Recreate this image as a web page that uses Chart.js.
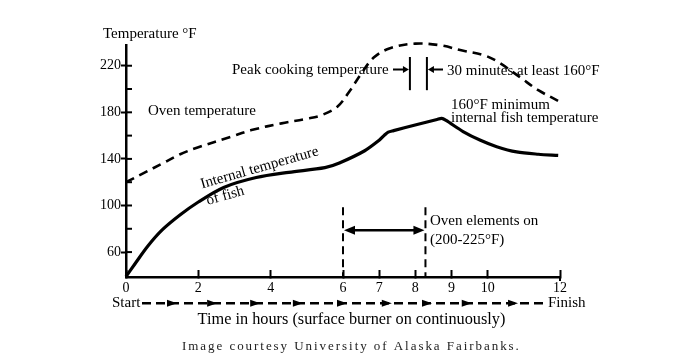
<!DOCTYPE html>
<html lang="en">
<head>
    <meta charset="UTF-8">
    <title>Smoking fish: oven and internal temperature</title>
    <script src="https://cdn.jsdelivr.net/npm/chart.js"></script>
    <style>
        html, body {
            margin: 0;
            padding: 0;
            background: #fff;
        }
        #wrap {
            width: 700px;
            height: 362px;
        }
    </style>
</head>
<body>
<div id="wrap">
    <canvas id="smokeChart" width="700" height="362"></canvas>
</div>

<script>
    // values (hours, degrees F)
    const ovenHours = [0, 0.5, 1, 1.5, 2, 2.9, 3.5, 4.3, 5, 5.4, 5.85, 6.2, 6.5, 6.85, 7.3, 8, 8.7, 9.3, 9.9, 10.3, 10.9, 11.4, 12];
    const ovenTemp  = [120, 128, 136, 144, 150, 159, 165, 170.5, 174.5, 177.5, 185, 199, 213, 227, 235, 239, 237.5, 233, 229, 223, 210, 199, 189];

    const fishHours = [0, 0.25, 0.6, 1, 1.5, 2, 2.7, 3.6, 4.5, 5.5, 5.9, 6.6, 7, 7.15, 7.25, 7.4, 8.05, 8.6, 8.73, 8.85, 9.32, 9.8, 10.25, 10.8, 11.4, 11.95];
    const fishTemp  = [39, 50, 65, 79, 92, 103, 115.5, 124, 128.5, 132.5, 136.5, 147, 156, 160.5, 163, 164.3, 169.5, 173.8, 174.8, 173, 163.5, 156, 150.5, 146, 144, 143];

    const xTicks = [0, 2, 4, 6, 7, 8, 9, 10, 12];
    const yTicks = [60, 100, 140, 180, 220];
    const yMinorTicks = [80, 120, 160, 200];

    // markers on the time axis
    const peakStart = 7.85, peakEnd = 8.32;
    const ovenOnStart = 6, ovenOnEnd = 8.28;
    const flowArrows = [1.41, 2.52, 3.71, 4.89, 6.11, 7.35, 8.46, 9.56, 10.84];

    const SERIF = "'Liberation Serif', 'Times New Roman', serif";

    function toPoints(xs, ys) {
        return xs.map((x, i) => ({ x: x, y: ys[i] }));
    }

    function arrowHead(ctx, x, y, dir, len, half) {
        ctx.beginPath();
        ctx.moveTo(x, y);
        ctx.lineTo(x - dir * len, y - half);
        ctx.lineTo(x - dir * len, y + half);
        ctx.closePath();
        ctx.fill();
    }

    const notes = {
        id: 'notes',
        afterDatasetsDraw(chart) {
            const ctx = chart.ctx;
            const xs = chart.scales.x, ys = chart.scales.y;
            const px = v => xs.getPixelForValue(v);
            const py = v => ys.getPixelForValue(v);
            const left = chart.chartArea.left, bottom = chart.chartArea.bottom;

            ctx.save();
            ctx.strokeStyle = '#000';
            ctx.fillStyle = '#000';

            // inner half of the y ticks, and the unlabelled ones
            ctx.lineWidth = 2;
            yTicks.concat(yMinorTicks).forEach(v => {
                ctx.beginPath();
                ctx.moveTo(left, py(v));
                ctx.lineTo(left + 6, py(v));
                ctx.stroke();
            });

            ctx.font = '15px ' + SERIF;
            ctx.textBaseline = 'alphabetic';
            ctx.fillText('Temperature °F', 103, 38);
            ctx.fillText('Oven temperature', 148, 115);
            ctx.fillText('Peak cooking temperature', 232, 74);
            ctx.fillText('30 minutes at least 160°F', 447, 75);
            ctx.fillText('160°F minimum', 451, 108.5);
            ctx.fillText('internal fish temperature', 451, 122);
            ctx.fillText('Oven elements on', 430, 225);
            ctx.fillText('(200-225°F)', 430, 243.5);

            // label along the fish curve
            ctx.save();
            ctx.translate(202, 188.5);
            ctx.rotate(-16 * Math.PI / 180);
            ctx.fillText('Internal temperature', 0, 0);
            ctx.fillText('of fish', 1, 17.5);
            ctx.restore();

            // peak window
            ctx.lineWidth = 2;
            [peakStart, peakEnd].forEach(h => {
                ctx.beginPath();
                ctx.moveTo(px(h), py(227.5));
                ctx.lineTo(px(h), py(199));
                ctx.stroke();
            });
            const ay = 69.5;
            ctx.beginPath();
            ctx.moveTo(393, ay);
            ctx.lineTo(px(peakStart) - 4, ay);
            ctx.moveTo(px(peakEnd) + 4, ay);
            ctx.lineTo(443, ay);
            ctx.stroke();
            arrowHead(ctx, px(peakStart) - 1, ay, 1, 6, 3.5);
            arrowHead(ctx, px(peakEnd) + 1, ay, -1, 6, 3.5);

            // oven elements on
            ctx.setLineDash([8, 5]);
            [ovenOnStart, ovenOnEnd].forEach(h => {
                ctx.beginPath();
                ctx.moveTo(px(h), py(98.5));
                ctx.lineTo(px(h), bottom);
                ctx.stroke();
            });
            ctx.setLineDash([]);
            const dy = py(78.7);
            ctx.lineWidth = 2.5;
            ctx.beginPath();
            ctx.moveTo(px(ovenOnStart) + 8, dy);
            ctx.lineTo(px(ovenOnEnd) - 8, dy);
            ctx.stroke();
            arrowHead(ctx, px(ovenOnStart) + 1, dy, -1, 11, 4.5);
            arrowHead(ctx, px(ovenOnEnd) - 1, dy, 1, 11, 4.5);

            // small tick under 12
            ctx.lineWidth = 2;
            ctx.beginPath();
            ctx.moveTo(px(12), bottom);
            ctx.lineTo(px(12), bottom + 4);
            ctx.stroke();

            // start -> finish line
            const sy = 303.3;
            ctx.font = '15px ' + SERIF;
            ctx.fillText('Start', 112, 307);
            ctx.fillText('Finish', 548, 307);
            ctx.lineWidth = 2.5;
            ctx.setLineDash([9, 5]);
            ctx.beginPath();
            ctx.moveTo(142, sy);
            ctx.lineTo(545, sy);
            ctx.stroke();
            ctx.setLineDash([]);
            flowArrows.forEach(h => arrowHead(ctx, px(h), sy, 1, 10, 3.5));

            ctx.font = '16.3px ' + SERIF;
            ctx.textAlign = 'center';
            ctx.fillText('Time in hours (surface burner on continuously)', 351.5, 323.5);

            ctx.font = '13px ' + SERIF;
            ctx.fillStyle = '#222';
            ctx.textAlign = 'left';
            ctx.letterSpacing = '1.95px';
            ctx.fillText('Image courtesy University of Alaska Fairbanks.', 182, 350);
            ctx.restore();
        }
    };

    new Chart(document.getElementById('smokeChart'), {
        type: 'line',
        data: {
            datasets: [
                {
                    label: 'Oven temperature',
                    data: toPoints(ovenHours, ovenTemp),
                    borderColor: '#000',
                    borderWidth: 2.6,
                    borderDash: [9, 6],
                    pointRadius: 0,
                    tension: 0.35,
                    fill: false,
                    clip: false
                },
                {
                    label: 'Internal temperature of fish',
                    data: toPoints(fishHours, fishTemp),
                    borderColor: '#000',
                    borderWidth: 3.2,
                    pointRadius: 0,
                    tension: 0.3,
                    fill: false,
                    clip: false
                }
            ]
        },
        options: {
            responsive: false,
            animation: false,
            devicePixelRatio: 1,
            layout: { padding: { top: 45, right: 140, bottom: 0, left: 0 } },
            plugins: {
                legend: { display: false },
                tooltip: { enabled: false }
            },
            scales: {
                x: {
                    type: 'linear',
                    min: 0,
                    max: 12,
                    afterFit(s) { s.height = 85; },
                    afterBuildTicks(s) { s.ticks = xTicks.map(v => ({ value: v })); },
                    grid: { drawOnChartArea: false, tickLength: -7, tickWidth: 2, tickColor: '#000' },
                    border: { color: '#000', width: 2.5 },
                    ticks: {
                        color: '#000',
                        padding: 10,
                        maxRotation: 0,
                        autoSkip: false,
                        font: { family: SERIF, size: 14 }
                    }
                },
                y: {
                    type: 'linear',
                    min: 38.6,
                    max: 237.8,
                    afterFit(s) { s.width = 126; },
                    afterBuildTicks(s) { s.ticks = yTicks.map(v => ({ value: v })); },
                    grid: { drawOnChartArea: false, tickLength: 5, tickWidth: 2, tickColor: '#000' },
                    border: { color: '#000', width: 2.5 },
                    ticks: {
                        color: '#000',
                        padding: 0,
                        font: { family: SERIF, size: 14 }
                    }
                }
            }
        },
        plugins: [notes]
    });
</script>
</body>
</html>
